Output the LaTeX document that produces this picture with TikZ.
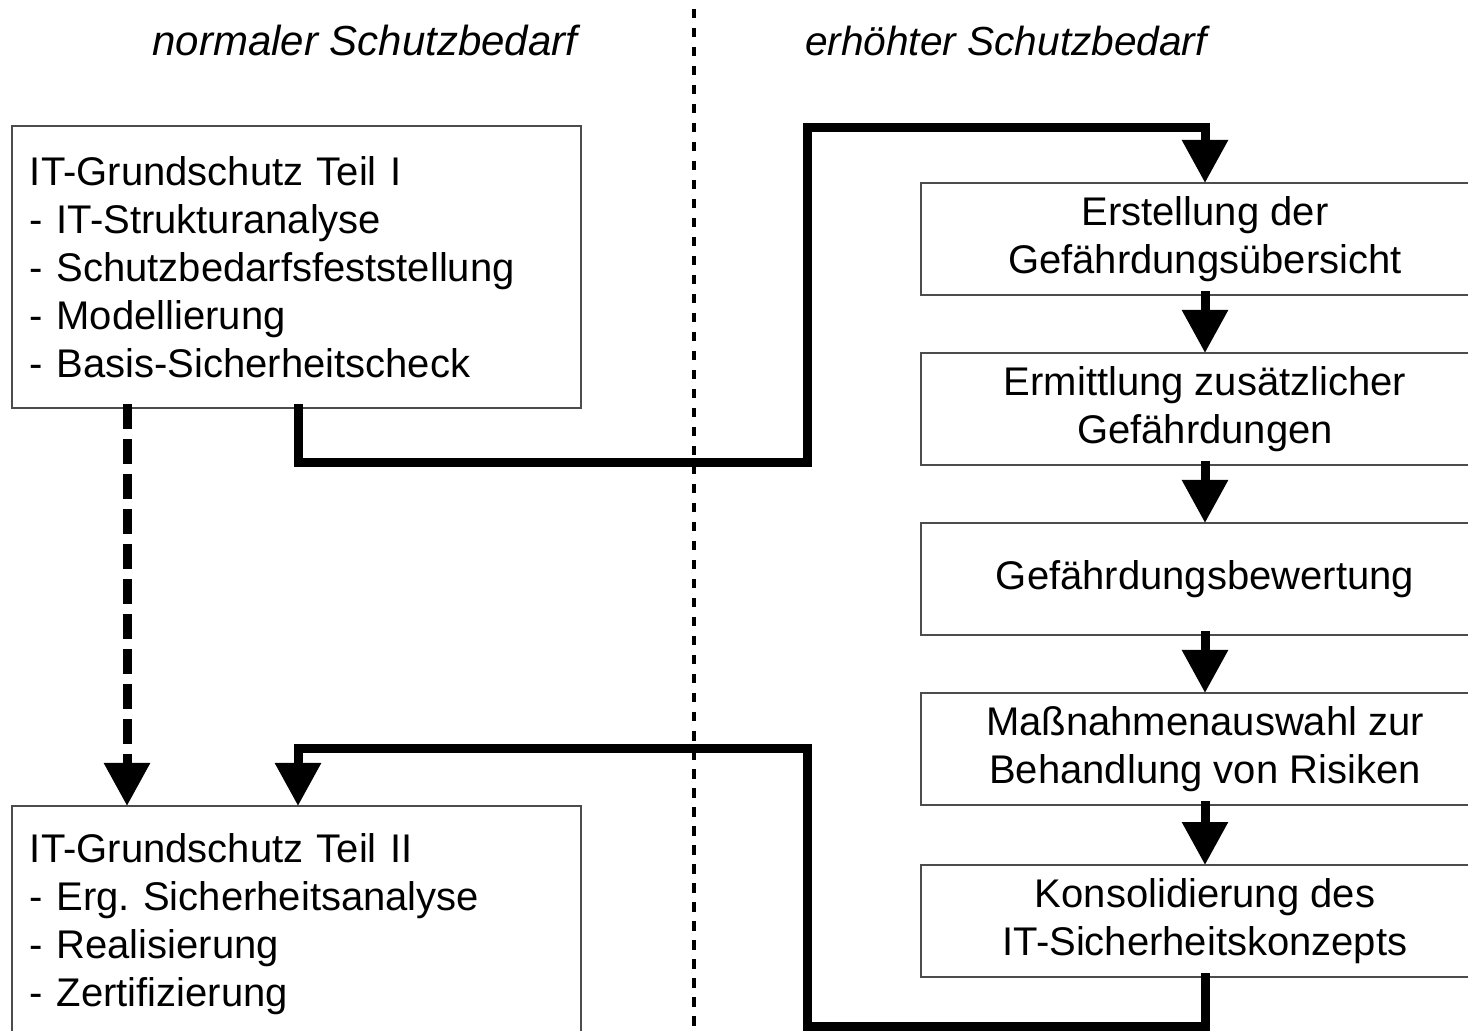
\documentclass[tikz,border=0pt]{standalone}
\usepackage{fontspec}
\setmainfont{Liberation Sans}
\usetikzlibrary{arrows.meta}
\frenchspacing
\tikzset{
  boxstyle/.style={draw=black!70, line width=0.75pt, inner sep=0pt, outer sep=0pt,
    font=\fontsize{20pt}{24pt}\selectfont\frenchspacing},
  leftbox/.style={boxstyle, anchor=north west, text width=266.5pt, inner xsep=9pt, align=left},
  rightbox/.style={boxstyle, anchor=north, minimum width=284pt, minimum height=56pt, align=center},
  header/.style={font=\fontsize{21pt}{25pt}\selectfont\itshape, anchor=base},
  conn/.style={line width=4.5pt, line join=miter, -{Triangle[length=21.5pt,width=22pt]}},
  sep/.style={line width=2.4pt, dash pattern=on 4.75pt off 4.75pt, dash phase=-4.5pt}
}
\begin{document}
\begin{tikzpicture}[x=0.5pt,y=-0.5pt]
\clip (0,0) rectangle (1468,1031);
\fill[white] (0,0) rectangle (1468,1031);

% separator
\coordinate (sepTop) at (694,0);
\coordinate (sepBot) at (694,1031);
\draw[sep] (sepTop) -- (sepBot);

% headers
\node[header] (hl) at (365,56) {normaler Schutzbedarf};
\node[header, font=\fontsize{20.3pt}{25pt}\selectfont\itshape] (hr) at (1006,56) {erhöhter Schutzbedarf};

% left boxes
\node[leftbox, minimum height=141pt] (box1) at (12,126)
  {IT-Grundschutz Teil I\\- IT-Strukturanalyse\\- Schutzbedarfsfeststellung\\- Modellierung\\- Basis-Sicherheitscheck};
\node[leftbox, minimum height=118pt] (box2) at (12,806)
  {IT-Grundschutz Teil II\\- Erg. Sicherheitsanalyse\\- Realisierung\\- Zertifizierung};

% right boxes
\node[rightbox] (boxA) at (1205,183) {Erstellung der\\Gefährdungsübersicht};
\node[rightbox] (boxB) at (1205,353) {Ermittlung zusätzlicher\\Gefährdungen};
\node[rightbox] (boxC) at (1205,523) {Gefährdungsbewertung};
\node[rightbox] (boxD) at (1205,693) {Maßnahmenauswahl zur\\Behandlung von Risiken};
\node[rightbox] (boxE) at (1205,865) {Konsolidierung des\\IT-Sicherheitskonzepts};

% chain arrows
\draw[conn] ([yshift=2pt]boxA.south) -- (boxB.north);
\draw[conn] ([yshift=2pt]boxB.south) -- (boxC.north);
\draw[conn] ([yshift=2pt]boxC.south) -- (boxD.north);
\draw[conn] ([yshift=2pt]boxD.south) -- (boxE.north);

% top connector
\coordinate (c1) at (807,463);
\coordinate (c2) at (807,128);
\draw[conn] ([xshift=0.75pt,yshift=2pt]box1.south) |- (c1) -- (c2) -| (boxA.north);

% bottom connector
\coordinate (c3) at (807,1026);
\coordinate (c4) at (807,749);
\draw[conn] ([yshift=2pt]boxE.south) |- (c3) -- (c4) -| ([xshift=0.75pt]box2.north);

% dashed arrow
\draw[conn, dash pattern=on 12.75pt off 4.75pt]
  ([xshift=57.5pt,yshift=2pt]box1.south west) -- ([xshift=57.5pt]box2.north west);
\end{tikzpicture}
\end{document}
